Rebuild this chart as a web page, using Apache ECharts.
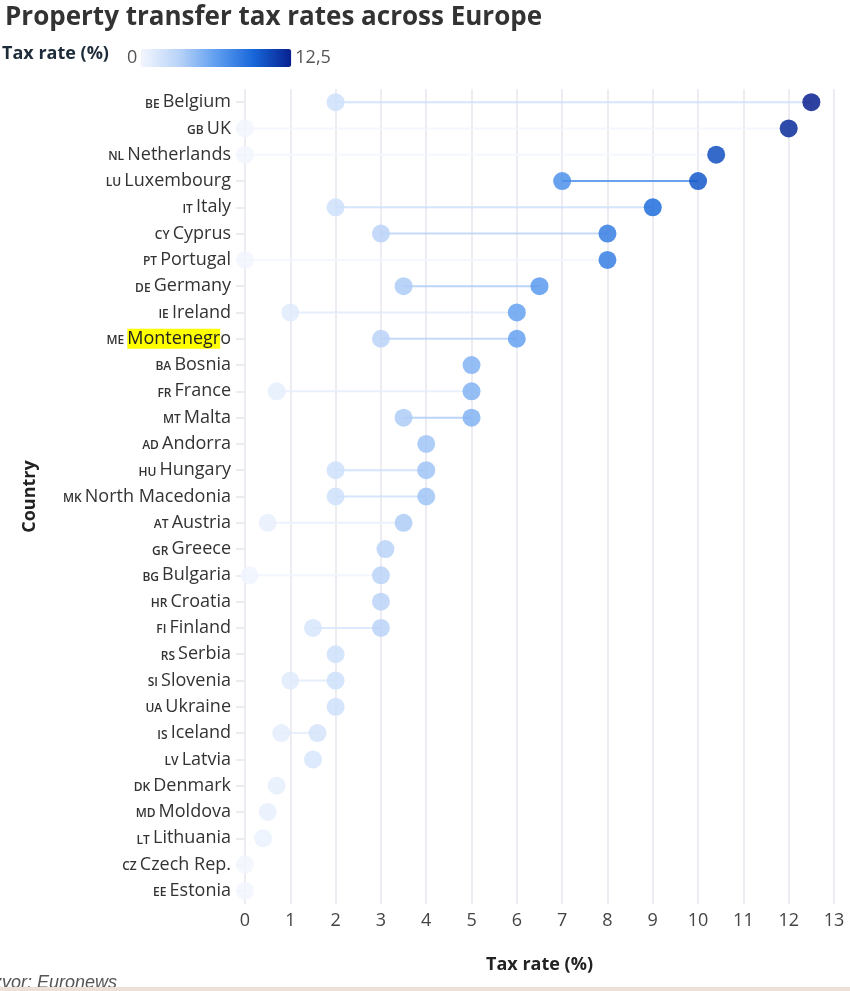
<!DOCTYPE html>
<html>
<head>
<meta charset="utf-8">
<script src="https://cdn.jsdelivr.net/npm/echarts@6/dist/echarts.min.js"></script>
<style>
	html, body { margin: 0; padding: 0; background: #fff; }
	#chart { width: 850px; height: 991px; }
</style>
</head>
<body>
<div id="chart"></div>
<script>
// countries, top to bottom
const countries = ["Belgium", "UK", "Netherlands", "Luxembourg", "Italy", "Cyprus", "Portugal", "Germany", "Ireland", "Montenegro", "Bosnia", "France", "Malta", "Andorra", "Hungary", "North Macedonia", "Austria", "Greece", "Bulgaria", "Croatia", "Finland", "Serbia", "Slovenia", "Ukraine", "Iceland", "Latvia", "Denmark", "Moldova", "Lithuania", "Czech Rep.", "Estonia"];
const codes = ["BE", "GB", "NL", "LU", "IT", "CY", "PT", "DE", "IE", "ME", "BA", "FR", "MT", "AD", "HU", "MK", "AT", "GR", "BG", "HR", "FI", "RS", "SI", "UA", "IS", "LV", "DK", "MD", "LT", "CZ", "EE"];
// lowest and highest rate (%), null where only one rate
const minRate = [2, 0, 0, 7, 2, 3, 0, 3.5, 1, 3, null, 0.7, 3.5, null, 2, 2, 0.5, null, 0.1, null, 1.5, null, 1, null, 0.8, null, null, null, null, null, null];
const maxRate = [12.5, 12, 10.4, 10, 9, 8, 8, 6.5, 6, 6, 5, 5, 5, 4, 4, 4, 3.5, 3.1, 3, 3, 3, 2, 2, 2, 1.6, 1.5, 0.7, 0.5, 0.4, 0, 0];
const xTicks = [0, 13];

const colors = ["#f2f6fe", "#b9d3f8", "#5f9ef0", "#1766d9", "#08208f"];

let chart = echarts.init(document.getElementById("chart"));

let lineData = [];
let dotData = [];
for (let i = 0; i < countries.length; i++) {
	if (minRate[i] !== null) {
		lineData.push([minRate[i], countries[i], maxRate[i]]);
		dotData.push([minRate[i], countries[i]]);
	}
	dotData.push([maxRate[i], countries[i]]);
}

function labelFmt(value, idx) {
	let code = codes[countries.indexOf(value)];
	if (value === "Montenegro") {
		return "{c|" + code + "} {hl|Montenegr}{n|o}";
	}
	return "{c|" + code + "} {n|" + value + "}";
}

let option = {
	animation: false,
	textStyle: { fontFamily: "Open Sans" },
	title: {
		text: "Property transfer tax rates across Europe",
		left: 0,
		top: 0,
		textStyle: { fontFamily: "Open Sans", fontSize: 26, fontWeight: "bold", color: "#333" },
	},
	graphic: [
		{
			type: "text",
			left: 2,
			top: 45,
			style: { text: "Tax rate (%)", font: "bold 18px 'Open Sans'", fill: "#1e2b3a" },
		},
		{
			type: "text",
			left: -12,
			top: 974,
			style: { text: "Izvor: Euronews", font: "italic 18px 'Liberation Sans'", fill: "#555" },
		},
		{
			type: "rect",
			left: 0,
			top: 987,
			shape: { width: 850, height: 4 },
			style: { fill: "#ece0d8" },
		},
	],
	visualMap: [
		{
			type: "continuous",
			seriesIndex: 1,
			dimension: 0,
			min: 0,
			max: 12.5,
			orient: "horizontal",
			left: 112,
			top: 34,
			itemWidth: 18,
			itemHeight: 150,
			text: ["12,5", "0"],
			textGap: 4,
			textStyle: { fontFamily: "Open Sans", fontSize: 18, color: "#555" },
			calculable: false,
			inRange: { color: colors },
		},
		{
			type: "continuous",
			show: false,
			seriesIndex: 0,
			dimension: 0,
			min: 0,
			max: 12.5,
			inRange: { color: colors },
		},
	],
	grid: { left: 245, right: 16, top: 89, height: 815 },
	xAxis: {
		type: "value",
		min: xTicks[0],
		max: xTicks[1],
		interval: 1,
		name: "Tax rate (%)",
		nameLocation: "middle",
		nameGap: 52,
		nameTextStyle: { fontFamily: "Open Sans", fontSize: 18, fontWeight: "bold", color: "#222" },
		axisLine: { show: false },
		axisTick: { show: false },
		axisLabel: { fontFamily: "Open Sans", fontSize: 18, color: "#444", margin: 8 },
		splitLine: { lineStyle: { color: "#ececf2", width: 2 } },
	},
	yAxis: {
		type: "category",
		data: countries,
		inverse: true,
		name: "Country",
		nameLocation: "middle",
		nameGap: 206,
		nameRotate: 90,
		nameTextStyle: { fontFamily: "Open Sans", fontSize: 18, fontWeight: "bold", color: "#222" },
		axisLine: { show: false },
		axisTick: { show: true, alignWithLabel: true, length: 9, lineStyle: { color: "#ececec", width: 2 } },
		axisLabel: {
			margin: 14,
			formatter: labelFmt,
			rich: {
				c: { fontFamily: "Open Sans", fontSize: 12, color: "#333", fontWeight: 600, padding: [4, 0, 0, 0] },
				n: { fontFamily: "Open Sans", fontSize: 18, color: "#333" },
				hl: { fontFamily: "Open Sans", fontSize: 18, color: "#222", backgroundColor: "#ffff00", padding: [1, 0, 1, 0] },
			},
		},
	},
	series: [
		{
			type: "custom",
			z: 1,
			data: lineData,
			encode: { x: [0, 2], y: 1 },
			renderItem: function (params, api) {
				let a = api.coord([api.value(0), api.value(1)]);
				let b = api.coord([api.value(2), api.value(1)]);
				return {
					type: "line",
					shape: { x1: a[0], y1: a[1], x2: b[0], y2: b[1] },
					style: { stroke: api.visual("color"), lineWidth: 2, opacity: 0.85 },
				};
			},
		},
		{
			type: "scatter",
			z: 2,
			data: dotData,
			symbolSize: 18,
			itemStyle: { opacity: 0.85 },
		},
	],
};

chart.setOption(option);
</script>
</body>
</html>
